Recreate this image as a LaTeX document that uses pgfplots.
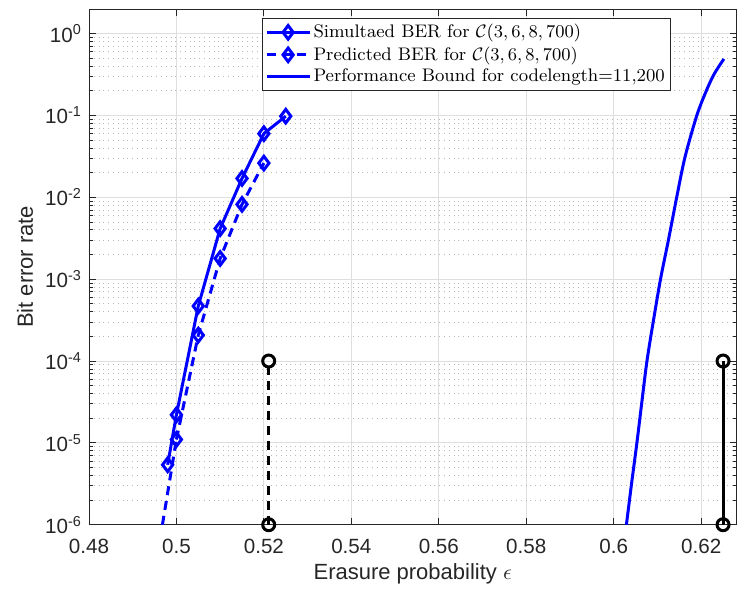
\documentclass[border=0pt]{standalone}
\usepackage{pgfplots}
\pgfplotsset{compat=1.18}
\usepackage{fontspec}
\setsansfont{Liberation Sans}

\definecolor{axgray}{RGB}{38,38,38}
\definecolor{gridgray}{RGB}{222,222,222}

\begin{document}
\begin{tikzpicture}
\begin{semilogyaxis}[
    name=ax,
    scale only axis,
    width=324pt, height=258pt,
    xmin=0.48, xmax=0.6281,
    ymin=1e-6, ymax=2,
    xtick={0.48,0.5,0.52,0.54,0.56,0.58,0.6,0.62},
    xticklabels={0.48,0.5,0.52,0.54,0.56,0.58,0.6,0.62},
    ytick={1e-6,1e-5,1e-4,1e-3,1e-2,1e-1,1},
    yticklabels={10\textsuperscript{-6},10\textsuperscript{-5},10\textsuperscript{-4},10\textsuperscript{-3},10\textsuperscript{-2},10\textsuperscript{-1},10\textsuperscript{0}},
    tick label style={font=\sffamily\fontsize{10.3}{12}\selectfont, text=axgray},
    xticklabel style={anchor=base, yshift=-14.5pt},
    label style={font=\sffamily\fontsize{11}{13}\selectfont, text=axgray},
    xlabel={Erasure probability $\epsilon$},
    ylabel={Bit error rate},
    xlabel style={at={(axis description cs:0.5,-0.1066)}, anchor=base},
    ylabel style={at={(axis description cs:-0.0988,0.5)}, anchor=center},
    axis line style={axgray, line width=0.4pt},
    tick style={axgray, line width=0.4pt},
    major tick length=3.5pt, minor tick length=2pt,
    xmajorgrids, ymajorgrids, yminorgrids,
    major grid style={solid, gridgray, line width=0.4pt},
    minor grid style={dotted, gray!55, line width=0.4pt},
    legend style={at={(0.5824,0.982)}, anchor=north, draw=axgray, line width=0.4pt,
        font=\fontsize{9.1}{10.8}\selectfont, row sep=0.6pt, inner sep=1.5pt,
        nodes={inner sep=1.2pt}, legend cell align=left},
    legend image code/.code={\draw[mark repeat=2,mark phase=2,#1] plot coordinates {(0cm,0cm)(0.378cm,0cm)(0.756cm,0cm)};},
]
% simulated
\addplot[blue, line width=1.5pt, mark=diamond, mark size=3.4pt, mark options={solid, line width=1.5pt}]
  coordinates {(0.498,5.4e-6)(0.5,2.2e-5)(0.505,4.7e-4)(0.51,4.15e-3)(0.515,1.7e-2)(0.52,6e-2)(0.525,9.8e-2)};
\addlegendentry{Simultaed BER for $\mathcal{C}(3,6,8,700)$}
% predicted
\addplot[blue, line width=1.5pt, dash pattern=on 4.5pt off 3pt, mark=diamond, mark size=3.4pt, mark options={solid, line width=1.5pt}]
  coordinates {(0.5,1.1e-5)(0.505,2.07e-4)(0.51,1.79e-3)(0.515,8.2e-3)(0.52,2.62e-2)};
\addlegendentry{Predicted BER for $\mathcal{C}(3,6,8,700)$}
\addplot[blue, line width=1.5pt, dash pattern=on 4.5pt off 3pt, forget plot]
  coordinates {(0.4968,1e-6)(0.5,1.1e-5)};
% bound
\addplot[blue, line width=1.5pt, smooth, tension=0.5]
  coordinates {(0.6029,1e-6)(0.6041,3.24e-6)(0.6053,1e-5)(0.6064,3.05e-5)(0.6076,1e-4)(0.6091,3.16e-4)(0.6107,1e-3)(0.6125,2.99e-3)(0.6144,1e-2)(0.6163,3.1e-2)(0.6190,0.1)(0.6212,0.2018)(0.6230,0.323)(0.6252,0.491)};
\addlegendentry{Performance Bound for codelength=11,200}
% thresholds
\addplot[black, line width=1.5pt, dash pattern=on 4.5pt off 3pt, mark=o, mark size=3pt, mark options={solid, line width=1.5pt}, forget plot]
  coordinates {(0.5211,1e-6)(0.5211,1e-4)};
\addplot[black, line width=1.5pt, mark=o, mark size=3pt, mark options={solid, line width=1.5pt}, forget plot]
  coordinates {(0.625,1e-6)(0.625,1e-4)};
\end{semilogyaxis}
\path (ax.south west) ++(-44.5pt,-33pt);
\path (ax.north east) ++(0pt,4.5pt);
\end{tikzpicture}
\end{document}
